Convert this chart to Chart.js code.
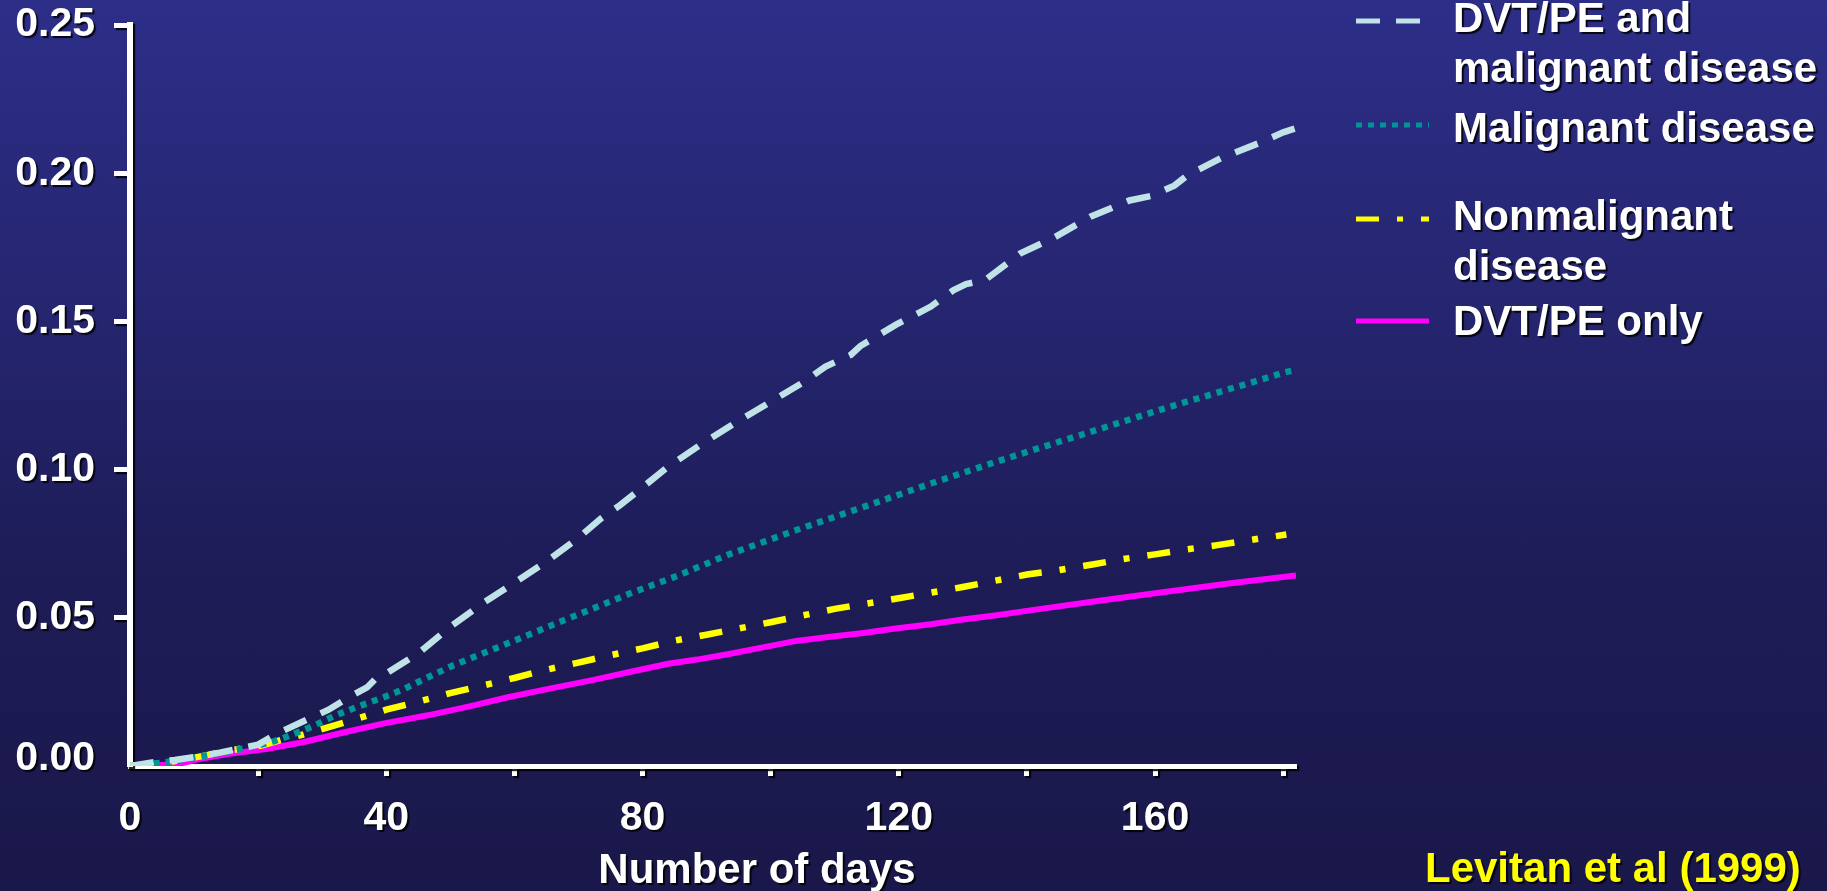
<!DOCTYPE html>
<html>
<head>
<meta charset="utf-8">
<title>Levitan et al (1999)</title>
<script src="https://cdn.jsdelivr.net/npm/chart.js@4.4.1/dist/chart.umd.min.js"></script>
<style>
    html, body { margin: 0; padding: 0; }
    body {
        width: 1827px; height: 891px; overflow: hidden;
        background: linear-gradient(to bottom, #2d2e88 0%, #252570 35%, #1d1c56 65%, #1a184a 100%);
        background-color: #1d1c56;
    }
    canvas { display: block; }
</style>
</head>
<body>
<canvas id="chart" width="1827" height="891"></canvas>
<script>
// cumulative risk, x = days
const dvtMalDays = [0, 4, 7, 10, 14, 17, 20, 23, 28, 31, 34, 37, 38.5, 40, 45, 50, 55, 60, 65, 70, 73.5, 76.5, 80, 84, 89, 94.5, 100, 105.5, 108.5, 112.5, 114, 119.5, 125, 128.5, 130.5, 133.5, 139, 144, 150, 156, 159.5, 163, 165, 170.5, 176.5, 180, 182];
const dvtMalRisk = [0, 0.0014, 0.002, 0.003, 0.0045, 0.0058, 0.0072, 0.011, 0.016, 0.019, 0.023, 0.0265, 0.0298, 0.0312, 0.038, 0.047, 0.0548, 0.0618, 0.069, 0.077, 0.0835, 0.088, 0.094, 0.101, 0.1083, 0.1158, 0.1229, 0.13, 0.1347, 0.1387, 0.1417, 0.1488, 0.155, 0.1605, 0.1626, 0.164, 0.173, 0.178, 0.1854, 0.1908, 0.1924, 0.1958, 0.1992, 0.2053, 0.2104, 0.2138, 0.2152];

const malDays = [0, 5, 11, 18, 22, 25, 28.5, 32, 35.5, 39, 42.5, 46, 50.5, 57.5, 64.5, 71, 78, 85, 93.5, 104, 114.5, 125, 135, 140.5, 148, 155, 162, 169, 176, 180, 182];
const malRisk = [0, 0.0011, 0.0032, 0.006, 0.008, 0.0103, 0.0134, 0.017, 0.02, 0.0227, 0.0257, 0.0294, 0.034, 0.0401, 0.0463, 0.052, 0.0582, 0.0638, 0.0714, 0.0796, 0.0874, 0.0953, 0.1025, 0.1063, 0.1114, 0.1162, 0.121, 0.1255, 0.13, 0.1327, 0.1337];

const nonMalDays = [0, 4.5, 10, 15.5, 20.5, 24.5, 27, 30.5, 35.5, 40, 45, 50, 55, 60, 65, 70, 75, 80, 85, 90, 95, 100, 105, 110, 115, 120, 125, 130, 135, 140, 145, 150, 155, 160, 165, 170, 175, 180.5];
const nonMalRisk = [0, 0.0007, 0.0028, 0.0052, 0.0069, 0.0093, 0.0106, 0.0128, 0.016, 0.019, 0.0217, 0.0246, 0.0271, 0.0297, 0.0325, 0.0349, 0.0374, 0.0397, 0.0423, 0.0443, 0.0464, 0.0485, 0.0508, 0.053, 0.0548, 0.0566, 0.0585, 0.0604, 0.0625, 0.0646, 0.0661, 0.0679, 0.0698, 0.0714, 0.0731, 0.0746, 0.0763, 0.0781];

const dvtDays = [0, 4, 8, 11, 15.5, 21.5, 27, 33.5, 39.5, 46.5, 53, 59, 65.5, 72, 78, 84, 88.5, 93.5, 99, 104, 109, 114.5, 119.5, 125, 130, 135, 140.5, 151, 161.5, 171.5, 182];
const dvtRisk = [0, 0.0002, 0.0009, 0.0024, 0.0041, 0.0058, 0.008, 0.0114, 0.0143, 0.0171, 0.0201, 0.0232, 0.0261, 0.0289, 0.0317, 0.0345, 0.0359, 0.0378, 0.0401, 0.0422, 0.0435, 0.0449, 0.0464, 0.0478, 0.0494, 0.0508, 0.0525, 0.0557, 0.0587, 0.0616, 0.0643];

const seriesNames = [['DVT/PE and', 'malignant disease'], ['Malignant disease'], ['Nonmalignant', 'disease'], ['DVT/PE only']];
const xLabelDays = [0, 40, 80, 120, 160];
const xTitle = 'Number of days';
const citation = 'Levitan et al (1999)';

const fontFamily = '"Liberation Sans", Arial, Helvetica, sans-serif';

function points(days, vals) {
    return days.map((d, i) => ({x: d, y: vals[i]}));
}

function shadow(ctx) {
    ctx.shadowColor = 'rgba(0,0,0,0.85)';
    ctx.shadowOffsetX = 2;
    ctx.shadowOffsetY = 2;
    ctx.shadowBlur = 1;
}

// legend rows: y of the sample line and baselines of the text lines
const legendRows = [
    {line: 21, text: [32, 82]},
    {line: 125, text: [142]},
    {line: 219, text: [230, 280]},
    {line: 321, text: [335]}
];

const slidePlugin = {
    id: 'slide',
    beforeDraw(chart) {
        // axes and tick labels get the drop shadow
        chart.ctx.save();
        shadow(chart.ctx);
    },
    beforeDatasetsDraw(chart) {
        chart.ctx.restore();
    },
    afterDraw(chart) {
        const ctx = chart.ctx;
        ctx.save();
        ctx.font = 'bold 42px ' + fontFamily;
        ctx.textBaseline = 'alphabetic';

        chart.data.datasets.forEach((ds, i) => {
            const row = legendRows[i];
            ctx.save();
            ctx.strokeStyle = ds.borderColor;
            ctx.lineWidth = 5;
            ctx.setLineDash(ds.borderDash || []);
            ctx.beginPath();
            ctx.moveTo(1356, row.line);
            ctx.lineTo(1429, row.line);
            ctx.stroke();
            ctx.restore();

            shadow(ctx);
            ctx.fillStyle = '#ffffff';
            ctx.textAlign = 'left';
            ds.label.forEach((t, j) => ctx.fillText(t, 1453, row.text[j]));
            ctx.shadowColor = 'transparent';
        });

        shadow(ctx);
        ctx.fillStyle = '#ffffff';
        ctx.textAlign = 'center';
        ctx.fillText(xTitle, 757, 883);

        ctx.fillStyle = '#ffff00';
        ctx.textAlign = 'left';
        ctx.fillText(citation, 1425, 882);
        ctx.restore();
    }
};

const hideZeroTick = c => (c.tick && c.tick.value === 0) ? 'rgba(0,0,0,0)' : '#ffffff';
const isZero = c => c.tick && c.tick.value === 0;

let chartCanvas = document.getElementById('chart');
let myChart = new Chart(chartCanvas, {
    type: 'line',
    data: {
        datasets: [{
            label: seriesNames[0],
            data: points(dvtMalDays, dvtMalRisk),
            borderColor: '#bfe3e7',
            borderDash: [24, 16],
            borderWidth: 6.5,
            order: 0
        }, {
            label: seriesNames[1],
            data: points(malDays, malRisk),
            borderColor: '#009696',
            borderDash: [6, 6],
            borderWidth: 6.5,
            order: 1
        }, {
            label: seriesNames[2],
            data: points(nonMalDays, nonMalRisk),
            borderColor: '#ffff00',
            borderDash: [23, 18, 6, 18],
            borderWidth: 6.5,
            order: 2
        }, {
            label: seriesNames[3],
            data: points(dvtDays, dvtRisk),
            borderColor: '#ff00ff',
            borderWidth: 6,
            order: 3
        }]
    },
    options: {
        responsive: false,
        animation: false,
        devicePixelRatio: 1,
        layout: {padding: {left: 15, right: 531, top: 25, bottom: 48}},
        elements: {
            point: {radius: 0},
            line: {tension: 0, fill: false, borderCapStyle: 'butt'}
        },
        plugins: {
            legend: {display: false},
            title: {display: false},
            tooltip: {enabled: false}
        },
        scales: {
            x: {
                type: 'linear',
                min: 0,
                max: 182,
                border: {display: true, color: '#ffffff', width: 5},
                grid: {display: true, drawOnChartArea: false, drawTicks: true, tickLength: 10, tickWidth: 5, tickColor: hideZeroTick},
                ticks: {
                    stepSize: 20,
                    includeBounds: false,
                    autoSkip: false,
                    maxRotation: 0,
                    padding: 18,
                    color: '#ffffff',
                    font: {family: fontFamily, size: 41, weight: 'bold'},
                    callback: v => xLabelDays.includes(v) ? String(v) : ''
                },
                afterFit: s => {
                    s.height = 77;
                    s.paddingLeft = 0;
                    s.paddingRight = 0;
                }
            },
            y: {
                type: 'linear',
                min: 0,
                max: 0.25,
                border: {display: true, color: '#ffffff', width: 6},
                grid: {display: true, drawOnChartArea: false, drawTicks: true, tickLength: 16, tickWidth: 5, tickColor: hideZeroTick},
                ticks: {
                    stepSize: 0.05,
                    padding: 19,
                    color: '#ffffff',
                    // the 0.00 label sits a little above the x axis
                    font: c => ({family: fontFamily, size: 41, weight: 'bold', lineHeight: isZero(c) ? '14px' : 1.2}),
                    callback: v => v === 0 ? [v.toFixed(2), ''] : v.toFixed(2)
                },
                afterFit: s => {
                    s.width = 115;
                    s.paddingTop = 0;
                    s.paddingBottom = 0;
                }
            }
        }
    },
    plugins: [slidePlugin]
});
</script>
</body>
</html>
